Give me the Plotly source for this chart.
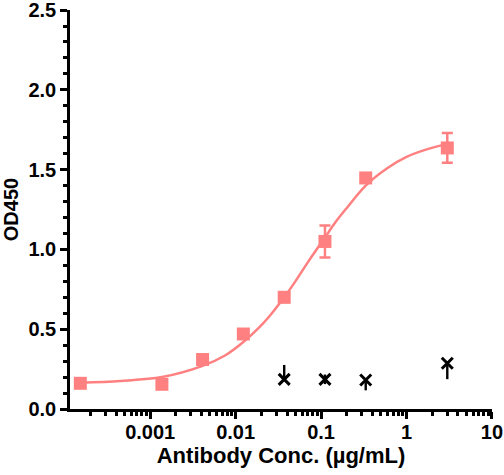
import plotly.graph_objects as go

# Concentrations (µg/mL), 3-fold dilution series
conc = [0.000152, 0.00137, 0.0041, 0.0123, 0.037, 0.111, 0.333, 3.0]
od_mean = [0.161, 0.155, 0.31, 0.47, 0.70, 1.05, 1.448, 1.636]
od_err = [0.01, 0.01, 0.01, 0.01, 0.03, 0.10, 0.01, 0.093]

# Fitted curve
curve_x = [0.000152, 0.00045, 0.00137, 0.0041, 0.0075, 0.0123, 0.01875, 0.025,
           0.037, 0.05, 0.0721, 0.111, 0.15, 0.2, 0.333, 0.6, 1.0, 1.8, 3.0]
curve_y = [0.165, 0.176, 0.20, 0.27, 0.335, 0.42, 0.51, 0.583,
           0.70, 0.80, 0.93, 1.075, 1.176, 1.26, 1.40, 1.51, 1.58, 1.63, 1.66]

# Control series (black crosses)
ctrl_x = [0.037, 0.111, 0.333, 3.0]
ctrl_y = [0.186, 0.186, 0.182, 0.287]
ctrl_err_plus = [0.09, 0.03, 0.0, 0.0]
ctrl_err_minus = [0.0, 0.03, 0.065, 0.10]

x_tickvals = [0.001, 0.01, 0.1, 1, 10]
x_ticktext = ["0.001", "0.01", "0.1", "1", "10"]
x_minorvals = [k * 10.0 ** e for e in range(-4, 1) for k in range(2, 10)]
y_tickvals = [0, 0.5, 1.0, 1.5, 2.0, 2.5]
y_ticktext = ["0.0", "0.5", "1.0", "1.5", "2.0", "2.5"]

pink = "#FF8080"
font_family = "Liberation Sans, Arial, sans-serif"

fig = go.Figure()

fig.add_trace(go.Scatter(
    x=curve_x, y=curve_y, mode="lines",
    line=dict(color=pink, width=2.5, shape="spline"),
    hoverinfo="skip", showlegend=False,
))

fig.add_trace(go.Scatter(
    x=conc, y=od_mean, mode="markers",
    marker=dict(symbol="square", size=13, color=pink),
    error_y=dict(type="data", array=od_err, color=pink, thickness=2.5, width=5.5),
    showlegend=False,
))

fig.add_trace(go.Scatter(
    x=ctrl_x, y=ctrl_y, mode="markers",
    marker=dict(symbol="x-thin", size=11, color="black",
                line=dict(color="black", width=3)),
    error_y=dict(type="data", symmetric=False, array=ctrl_err_plus,
                 arrayminus=ctrl_err_minus, color="black", thickness=2.4, width=0),
    showlegend=False,
))

axis_font = dict(family=font_family, size=20, color="black", weight="bold")
xtitle_font = dict(family=font_family, size=22, color="black", weight="bold")
ytitle_font = dict(family=font_family, size=20, color="black", weight="bold")

fig.update_layout(
    width=504, height=475,
    margin=dict(l=70, r=12, t=10, b=66),
    plot_bgcolor="white", paper_bgcolor="white",
    xaxis=dict(
        type="log", range=[-3.939, 1.0005], automargin=False,
        tickmode="array", tickvals=x_tickvals, ticktext=x_ticktext,
        ticks="outside", ticklen=7, tickwidth=2.5, tickcolor="black",
        minor=dict(tickmode="array", tickvals=x_minorvals, ticks="outside",
                   ticklen=4, tickwidth=2.5, tickcolor="black"),
        showline=True, linewidth=2.5, linecolor="black",
        showgrid=False, zeroline=False,
        tickfont=axis_font, ticklabeloverflow="allow", ticklabelstandoff=-4,
        title=dict(text="Antibody Conc. (µg/mL)", font=xtitle_font, standoff=4),
    ),
    yaxis=dict(
        range=[0, 2.5005], automargin=False,
        tickmode="array", tickvals=y_tickvals, ticktext=y_ticktext,
        ticks="outside", ticklen=7, tickwidth=2.5, tickcolor="black",
        minor=dict(dtick=0.1, tick0=0, ticks="outside", ticklen=4, tickwidth=2.5,
                   tickcolor="black"),
        showline=True, linewidth=2.5, linecolor="black",
        showgrid=False, zeroline=False,
        tickfont=axis_font, ticklabeloverflow="allow",
        title=dict(text="OD450", font=ytitle_font, standoff=10),
    ),
)

fig.write_html("out.html", config={"displayModeBar": False},
               post_script="document.body.style.margin='0';document.body.style.overflow='hidden';")
